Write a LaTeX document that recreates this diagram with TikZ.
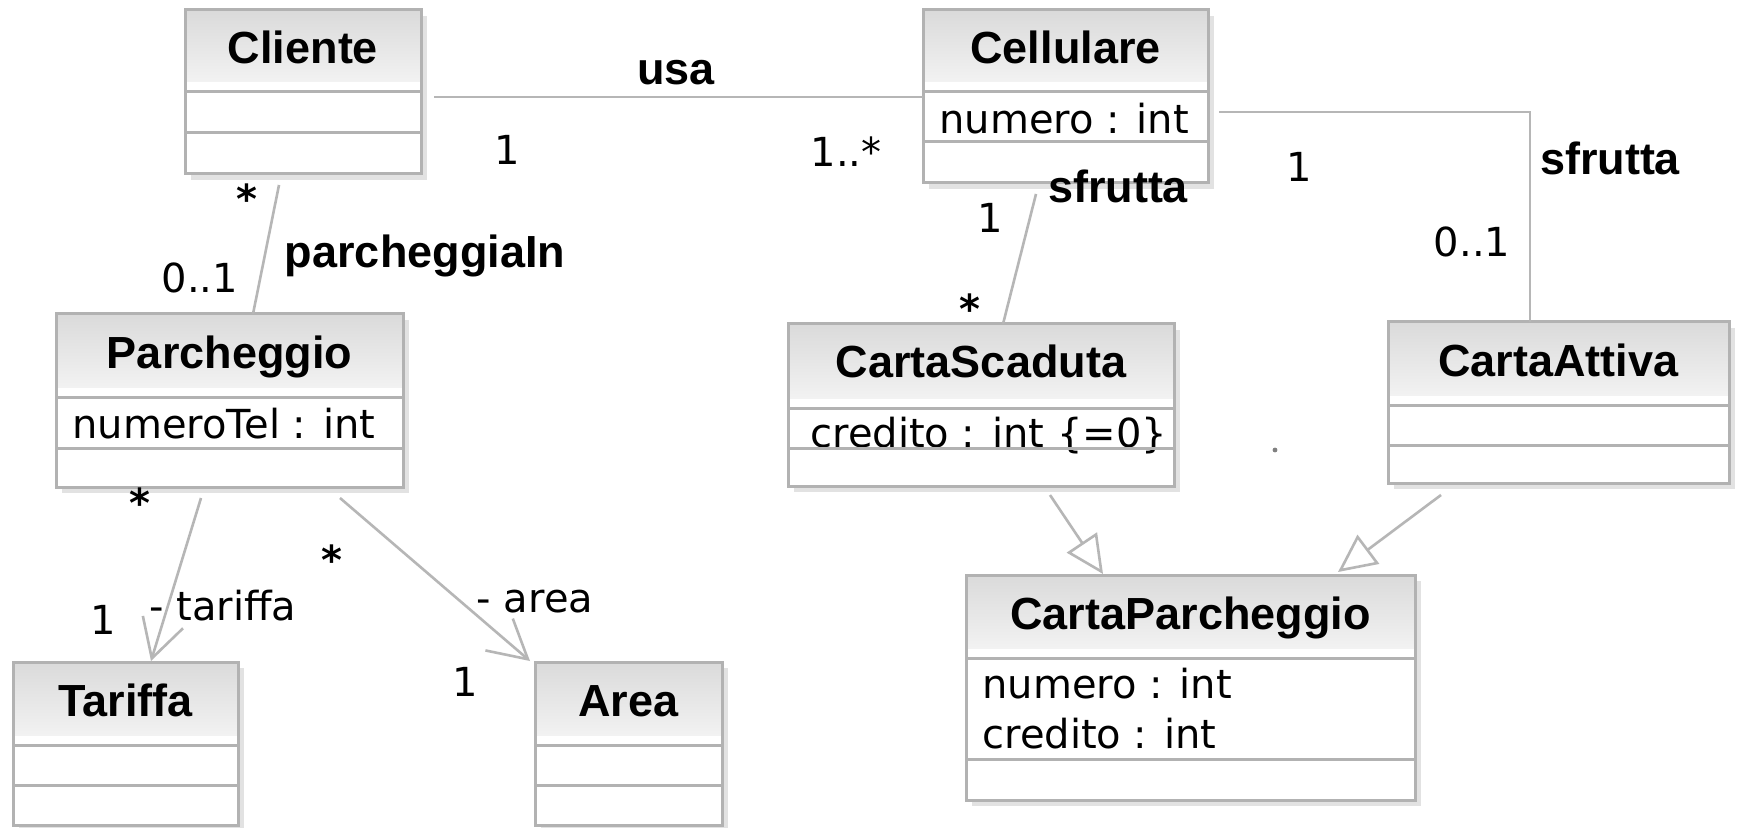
\documentclass[tikz,border=0pt]{standalone}
\usepackage{fontspec}
\setmainfont{DejaVu Sans}
\newfontfamily\namefont{Liberation Sans}
\usetikzlibrary{arrows.meta,calc}
\definecolor{bordc}{RGB}{178,178,178}
\definecolor{shadc}{RGB}{226,226,226}
\definecolor{hdrtop}{RGB}{218,218,218}
\definecolor{hdrbot}{RGB}{242,242,242}
\definecolor{linec}{RGB}{182,182,182}
\tikzset{
  clsbox/.style={rectangle, fill=white, inner sep=0pt, outer sep=0pt},
  clsname/.style={font=\namefont\bfseries\fontsize{22.5}{27}\selectfont, anchor=base, inner sep=0pt},
  attr/.style={font=\fontsize{20}{24}\selectfont, anchor=base west, inner sep=0pt},
  mult/.style={font=\fontsize{20}{24}\selectfont, anchor=base, inner sep=0pt},
  star/.style={mult, font=\bfseries\fontsize{20}{24}\selectfont},
  aname/.style={font=\namefont\bfseries\fontsize{22.5}{27}\selectfont, anchor=base, inner sep=0pt},
  bordline/.style={draw=bordc, line width=1.5pt},
  assoc/.style={draw=linec, line width=1.3pt},
  nav/.style={assoc, -{Straight Barb[length=19pt,width=21pt]}},
  gen/.style={assoc, -{Triangle[open,length=19pt,width=18pt,fill=white]}},
  shadowfill/.style={fill=shadc},
}
% #1 name, #2 x1, #3 y1, #4 x2, #5 y2, #6 sep1, #7 sep2, #8 title, #9 attribute code
\newcommand\umlcls[9]{%
  \fill[shadowfill] (#2+6,#3+6) rectangle (#4+6,#5+6);
  \node[clsbox, minimum width={(#4-#2)*0.5pt}, minimum height={(#5-#3)*0.5pt}] (#1) at ({(#2+#4)/2},{(#3+#5)/2}) {};
  \shade[top color=hdrtop, bottom color=hdrbot] (#2,#3) rectangle (#4,#6-10);
  \node[clsname] (#1-name) at ({(#2+#4)/2},#3+54) {#8};
  #9
  \draw[bordline] (#2,#6) -- (#4,#6) (#2,#7) -- (#4,#7);
  \draw[bordline] (#1.north west) rectangle (#1.south east);
}
\begin{document}
\begin{tikzpicture}[x=0.5pt,y=-0.5pt]
\useasboundingbox (0,0) rectangle (1738,828);
\fill[white] (0,0) rectangle (1738,828);

\umlcls{cliente}{185}{10}{421}{174}{92}{133}{Cliente}{}
\umlcls{cellulare}{923}{10}{1208}{183}{92}{142}{Cellulare}{\node[attr] (cellulare-a1) at (939,134) {numero : int};}
\umlcls{parcheggio}{56}{314}{403}{487}{397}{448}{Parcheggio}{\node[attr] (parcheggio-a1) at (72,438) {numeroTel : int};}
\umlcls{cartascaduta}{788}{324}{1174}{486}{408}{448}{CartaScaduta}{\node[attr] (cartascaduta-a1) at (810,447) {credito : int \{=0\}};}
\umlcls{cartaattiva}{1388}{322}{1729}{483}{405}{445}{CartaAttiva}{}
\umlcls{tariffa}{13}{662}{238}{825}{745}{785}{Tariffa}{}
\umlcls{area}{535}{662}{722}{825}{745}{785}{Area}{}
\umlcls{cartaparcheggio}{966}{575}{1415}{800}{658}{759}{CartaParcheggio}{%
  \node[attr] (cartaparcheggio-a1) at (982,698) {numero : int};
  \node[attr] (cartaparcheggio-a2) at (982,748) {credito : int};}

% associations
\draw[assoc] ($(cliente.north east)+(13,87)$) -- ($(cellulare.north west)+(0,87)$);
\draw[assoc] ($(cliente.south west)+(94,11)$) -- ($(parcheggio.north west)+(197,0)$);
\draw[assoc] ($(cellulare.south west)+(113,11)$) -- ($(cartascaduta.north west)+(215,0)$);
\draw[assoc] ($(cellulare.north east)+(11,102)$) -| ($(cartaattiva.north west)+(142,0)$);
\draw[nav] ($(parcheggio.south west)+(145,11)$) -- ($(tariffa.north west)+(138,-1)$);
\draw[nav] ($(parcheggio.south west)+(284,11)$) -- ($(area.north west)+(-5,-1)$);
\draw[gen] ($(cartascaduta.south west)+(262,9)$) -- ($(cartaparcheggio.north west)+(137,-1)$);
\draw[gen] ($(cartaattiva.south west)+(53,12)$) -- ($(cartaparcheggio.north west)+(372,-3)$);

% association names
\node[aname] (l-usa) at (676,85) {usa};
\node[aname] (l-parcheggiaIn) at (425,268) {parcheggiaIn};
\node[aname] (l-sfrutta1) at (1118,203) {sfrutta};
\node[aname] (l-sfrutta2) at (1610,175) {sfrutta};

% multiplicities and role names
\node[mult] (m-usa1) at (507,165) {1};
\node[mult] (m-usa2) at (846,167) {1..*};
\node[star] (m-cl) at (247,214) {*};
\node[mult] (m-pa1) at (200,293) {0..1};
\node[mult] (m-sf1) at (990,233) {1};
\node[star] (m-sf2) at (970,324) {*};
\node[mult] (m-sf3) at (1299,182) {1};
\node[mult] (m-sf4) at (1472,257) {0..1};
\node[star] (m-ta1) at (140,517) {*};
\node[mult] (m-ta2) at (103,634) {1};
\node[mult] (r-ta) at (223,620) {- tariffa};
\node[star] (m-ar1) at (332,574) {*};
\node[mult] (m-ar2) at (465,696) {1};
\node[mult] (r-ar) at (535,612) {- area};

\fill[gray] (1275,450) circle (1.2pt);
\end{tikzpicture}
\end{document}
